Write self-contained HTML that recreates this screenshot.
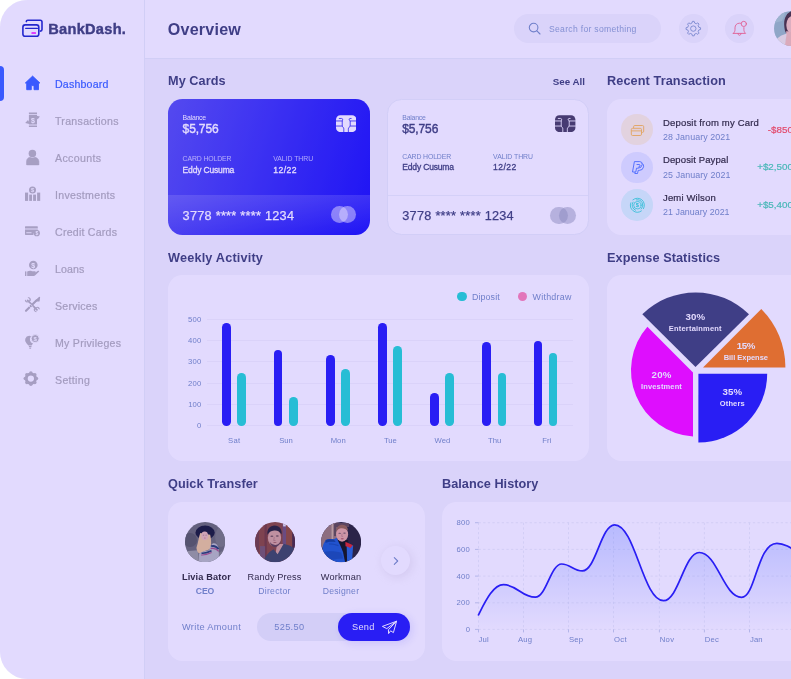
<!DOCTYPE html>
<html lang="en">
<head>
<meta charset="utf-8">
<title>BankDash - Overview</title>
<style>
*{box-sizing:border-box;margin:0;padding:0}
html,body{width:791px;height:679px;background:#fff;overflow:hidden}
body{font-family:"Liberation Sans",sans-serif;color:#343C6A}
#app{position:absolute;left:0;top:0;width:791px;height:679px;overflow:hidden;border-radius:27px 0 0 27px;background:#F5F7FA}
#tint{position:absolute;left:0;top:0;width:791px;height:679px;background:rgba(110,70,250,0.2);pointer-events:none;z-index:50}
.abs{position:absolute}
.t{position:absolute;white-space:nowrap;line-height:1}
#side{position:absolute;left:0;top:0;width:145px;height:679px;background:#fff;border-right:1px solid #EAF0F6}
#head{position:absolute;left:145px;top:0;width:646px;height:58.5px;background:#fff;border-bottom:1px solid #EAF0F6}
.nav{position:absolute;left:55px;font-size:10.6px;font-weight:500;color:#B1B1B1;white-space:nowrap;line-height:12px;-webkit-text-stroke:.2px currentColor}
.nav.on{color:#2D60FF}
.ico{position:absolute}
.h2{position:absolute;font-size:12.7px;font-weight:700;color:#343C6A;white-space:nowrap;line-height:16px}
.panel{position:absolute;background:#fff;border-radius:14.4px}

.tx1{font-size:9.5px;font-weight:500;color:#232323;line-height:12px;-webkit-text-stroke:.2px currentColor}
.tx2{font-size:8.9px;color:#718EBF;line-height:11px}
.tx3{font-size:9.8px;font-weight:500;line-height:12px;-webkit-text-stroke:.2px currentColor}

.lg{font-size:8.9px;color:#718EBF;line-height:11px}
.ax{font-size:7.7px;color:#718EBF;line-height:9px}

.pp{width:60px;text-align:center;font-size:9.7px;font-weight:700;color:#fff;line-height:11px}
.pn{width:60px;text-align:center;font-size:7.5px;font-weight:700;color:#fff;line-height:9px}
</style>
</head>
<body>
<div id="app">
  <!-- SIDEBAR -->
  <div id="side"></div>
  <div id="head"></div>
  

  <svg class="ico" style="left:0;top:0" width="145" height="420" viewBox="0 0 145 420">
    <!-- home -->
    <path d="M32.6 76.1 L39.9 83 H38.5 V89.7 H34 V85.6 H31.3 V89.7 H26.7 V83 H25.3 Z" fill="#2D60FF" stroke="#2D60FF" stroke-width=".9" stroke-linejoin="round"/>
    <g fill="#B6B6B6">
    <!-- transactions -->
    <path d="M28.9 112.6 H37 V114.2 H28.9 Z M28.9 125.4 H37 V127 H28.9 Z"/>
    <path d="M28.9 115 H37 V124.6 H28.9 Z" />
    <path d="M35.5 115.6 L39.9 116.6 L37.6 119.4 Z M30.4 124.2 L25.2 123 L28 120 Z"/>
    <text x="33" y="122.6" font-family="Liberation Sans, sans-serif" font-size="7" font-weight="700" text-anchor="middle" fill="#fff">$</text>
    <!-- accounts -->
    <circle cx="32.4" cy="153.4" r="3.75"/>
    <path d="M26.5 164.7 V161.6 C26.5 158.8 28.6 157.2 30.2 157.2 C31.6 158.2 33.2 158.2 34.6 157.2 C36.4 157.2 38.9 158.8 38.9 161.6 V164.7 Q38.9 164.9 38.3 164.9 H27.1 Q26.5 164.9 26.5 164.7 Z" stroke="#B1B1B1" stroke-width=".5"/>
    <!-- investments -->
    <rect x="25" y="192.6" width="3.1" height="8.3"/><rect x="29.2" y="194.6" width="2.8" height="6.3"/><rect x="33.1" y="194.6" width="2.9" height="6.3"/><rect x="37.1" y="192.6" width="3.1" height="8.3"/>
    <circle cx="32.5" cy="189.9" r="3.5"/>
    <text x="32.5" y="192.2" font-family="Liberation Sans, sans-serif" font-size="5.6" font-weight="700" text-anchor="middle" fill="#fff">$</text>
    <!-- credit cards -->
    <path d="M25 226.8 Q25 226.2 25.6 226.2 H37.2 Q37.8 226.2 37.8 226.8 V228.4 H25 Z"/>
    <path d="M25 229.5 H37.8 V231 A3.6 3.6 0 0 0 33.4 234.9 H25.6 Q25 234.9 25 234.3 Z"/>
    <rect x="26.3" y="232" width="5.2" height="1.3" fill="#fff" opacity=".7"/>
    <circle cx="36.8" cy="233.2" r="3.1"/>
    <text x="36.8" y="235.1" font-family="Liberation Sans, sans-serif" font-size="5" font-weight="700" text-anchor="middle" fill="#fff">$</text>
    <!-- loans -->
    <circle cx="33.3" cy="265" r="4.3"/>
    <text x="33.3" y="267.7" font-family="Liberation Sans, sans-serif" font-size="7" font-weight="700" text-anchor="middle" fill="#fff">$</text>
    <rect x="25" y="271.4" width="1.4" height="4.6"/>
    <path d="M27.2 271.6 C29 270.6 30.5 270.6 32 271.2 L35.2 271.2 Q36 271.6 35.4 272.6 L38 270.8 Q39.2 270.4 39.2 271.6 L35 275.4 Q34 276 32.6 276 H27.2 Z"/>
    <!-- services -->
    <path d="M26 310.8 L36.4 300.4" stroke="#B1B1B1" stroke-width="2.1" stroke-linecap="round"/>
    <path d="M36 300.8 L39.4 297.6 L38.9 300.9 Z" stroke="#B1B1B1" stroke-width="1.4" stroke-linejoin="round"/>
    <path d="M27.6 300.4 L37 309.8" stroke="#B1B1B1" stroke-width="1.7" stroke-linecap="round"/>
    <path d="M25.2 299.5 L27 301.6 L29 301 L29.6 299 L27.6 297.4 C29.6 296.8 31.4 298.4 30.8 300.6 L29.4 302 L26.8 302.6 C25.2 302 24.4 300.8 25.2 299.5 Z"/>
    <path d="M39.4 309.8 L37.6 307.8 L35.6 308.4 L35 310.4 L37 312 C35 312.6 33.2 311 33.8 308.8 L35.2 307.4 L37.8 306.8 C39.4 307.4 40.2 308.6 39.4 309.8 Z"/>
    <path d="M28.3 305.3 L31 308 M29.9 303.7 L32.6 306.4" stroke="#fff" stroke-width=".7"/>
    <!-- privileges -->
    <path d="M29.2 335.8 A4.3 4.3 0 0 0 26.6 343.4 L28.4 345.4 H31.6 L33 343.6 A4.6 4.6 0 0 1 31 336.2 Z"/>
    <rect x="28.9" y="346" width="2.6" height="1.1"/><rect x="29.3" y="347.6" width="1.8" height="1.1"/>
    <circle cx="35.2" cy="338.6" r="4" stroke="#fff" stroke-width=".9"/>
    <text x="35.2" y="340.9" font-family="Liberation Sans, sans-serif" font-size="6" font-weight="700" text-anchor="middle" fill="#fff">$</text>
    <!-- setting -->
    <circle cx="30.85" cy="378.6" r="4.6" fill="none" stroke="#B1B1B1" stroke-width="2.9"/>
    <circle cx="30.85" cy="373.00" r="1.75"/><circle cx="34.81" cy="374.64" r="1.75"/><circle cx="36.45" cy="378.60" r="1.75"/><circle cx="34.81" cy="382.56" r="1.75"/><circle cx="30.85" cy="384.20" r="1.75"/><circle cx="26.89" cy="382.56" r="1.75"/><circle cx="25.25" cy="378.60" r="1.75"/><circle cx="26.89" cy="374.64" r="1.75"/>
    </g>
  </svg>
  <!-- logo -->
  <svg class="ico" style="left:16px;top:12px" width="40" height="32" viewBox="16 12 40 32">
    <path d="M26.3 21.6 Q26.3 20.3 27.8 20.3 H40.3 Q42 20.3 42 22 V29.5 Q42 31.1 40.4 31.1" fill="none" stroke="#1220C4" stroke-width="1.6" stroke-linecap="round"/>
    <rect x="22.9" y="24.9" width="15.9" height="11.4" rx="2.3" fill="none" stroke="#1220C4" stroke-width="1.6"/>
    <path d="M25.6 28.3 H37.6" stroke="#1220C4" stroke-width="1.15" stroke-linecap="round"/>
    <rect x="31.4" y="32.2" width="4.6" height="1.6" rx=".5" fill="#FA00FF"/>
  </svg>
  <div class="t" id="logo" style="left:48.3px;top:20.5px;font-size:14.6px;font-weight:700;color:#343C6A;-webkit-text-stroke:.4px #343C6A;line-height:16px;letter-spacing:0.27px">BankDash.</div>
  <div class="abs" style="left:0;top:66px;width:3.5px;height:35px;background:#2D60FF;border-radius:0 6px 6px 0"></div>
  <div class="nav on" style="top:77.5px;letter-spacing:0.2px">Dashboard</div>
  <div class="nav" style="top:114.5px;letter-spacing:0.29px">Transactions</div>
  <div class="nav" style="top:151.5px;letter-spacing:0.36px">Accounts</div>
  <div class="nav" style="top:188.5px;letter-spacing:0.3px">Investments</div>
  <div class="nav" style="top:225.5px;letter-spacing:0.23px">Credit Cards</div>
  <div class="nav" style="top:262.5px;letter-spacing:0.08px">Loans</div>
  <div class="nav" style="top:299.5px;letter-spacing:0.23px">Services</div>
  <div class="nav" style="top:336.5px;letter-spacing:0.25px">My Privileges</div>
  <div class="nav" style="top:373.5px;letter-spacing:0.32px">Setting</div>

  
  <div class="t" id="ov" style="left:167.8px;top:18.5px;font-size:16.1px;font-weight:700;color:#343C6A;line-height:20px;letter-spacing:0.21px">Overview</div>
  <div class="abs" style="left:514.3px;top:14.4px;width:147.2px;height:28.8px;border-radius:15px;background:#F5F7FA"></div>
  <svg class="ico" style="left:527.6px;top:22px" width="14" height="14" viewBox="0 0 14 14"><circle cx="5.6" cy="5.6" r="4.3" fill="none" stroke="#718EBF" stroke-width="1.1"/><path d="M8.9 8.9 L12 12" stroke="#718EBF" stroke-width="1.1" stroke-linecap="round"/></svg>
  <div class="t" style="left:549px;top:23.7px;font-size:8.6px;color:#8BA3CB;line-height:11px;letter-spacing:0.3px">Search for something</div>
  <div class="abs" style="left:678.9px;top:14.4px;width:28.8px;height:28.8px;border-radius:50%;background:#F5F7FA"></div>
  <div class="abs" style="left:725.4px;top:14.4px;width:28.8px;height:28.8px;border-radius:50%;background:#F5F7FA"></div>

  

  <svg class="ico" style="left:675px;top:8px" width="84" height="42" viewBox="675 8 84 42">
    <path d="M692.44 21.35 L694.16 21.35 L694.63 23.06 L696.28 23.74 L697.82 22.87 L699.03 24.08 L698.16 25.62 L698.84 27.27 L700.55 27.74 L700.55 29.46 L698.84 29.93 L698.16 31.58 L699.03 33.12 L697.82 34.33 L696.28 33.46 L694.63 34.14 L694.16 35.85 L692.44 35.85 L691.97 34.14 L690.32 33.46 L688.78 34.33 L687.57 33.12 L688.44 31.58 L687.76 29.93 L686.05 29.46 L686.05 27.74 L687.76 27.27 L688.44 25.62 L687.57 24.08 L688.78 22.87 L690.32 23.74 L691.97 23.06 Z" fill="none" stroke="#718EBF" stroke-width=".8" stroke-linejoin="round"/>
    <circle cx="693.3" cy="28.6" r="2.7" fill="none" stroke="#718EBF" stroke-width=".8"/>
    <g fill="none" stroke="#FE5C73" stroke-width=".85" stroke-linecap="round" stroke-linejoin="round">
      <path d="M733.3 33.4 H745.6 C744.3 32.2 743.9 31 743.9 29.4 V27.6 M741.4 23.6 C740.8 23.3 740.1 23.2 739.4 23.2 C736.8 23.2 735 25.2 735 27.8 V29.4 C735 31 734.6 32.2 733.3 33.4"/>
      <path d="M738 33.6 C738 36 741 36 741 33.6"/>
      <circle cx="743.8" cy="23.9" r="2.6" fill="#F5F7FA"/>
    </g>
  </svg>

  <svg class="ico" style="left:774.2px;top:11.2px;z-index:60" width="35" height="35" viewBox="0 0 35 35">
    <defs><clipPath id="c0"><circle cx="17.5" cy="17.5" r="17.5"/></clipPath><filter id="bl0" x="-20%" y="-20%" width="140%" height="140%"><feGaussianBlur stdDeviation="0.6"/></filter></defs>
    <g clip-path="url(#c0)"><rect width="35" height="35" fill="#8FA6C7"/><g filter="url(#bl0)">
      <path d="M0 0 H12 L8 10 L0 12 Z" fill="#9DB2CF"/>
      <path d="M20 -1 C13 1 9.8 7 10.2 14 C10.4 18 11 21 12.6 22.6 L20 22 Z" fill="#4A3152"/>
      <ellipse cx="19.5" cy="14" rx="7.2" ry="9.4" fill="#DDAFC1"/>
      <path d="M13 8 C14 6 16 5 20 5 L20 2 L13 3 Z" fill="#4A3152"/>
      <path d="M12.4 20 L20 22 L20 35 L10.6 35 Z" fill="#DBAABB"/>
      <path d="M2 29 C5 25 9.6 23.4 12.6 22.8 L10.8 36 L2 36 Z" fill="#D8CBE3"/>
    </g></g>
  </svg>
  <div class="h2" style="left:168px;top:72.8px;letter-spacing:0.06px">My Cards</div>
  <div class="t" style="left:520px;width:65px;text-align:right;top:75.7px;font-size:9.8px;font-weight:700;color:#343C6A;line-height:12px;letter-spacing:-0.02px">See All</div>
  <!-- card 1 -->
  <div class="abs" id="card1" style="left:167.6px;top:98.9px;width:202.4px;height:135.8px;border-radius:14.4px;background:linear-gradient(107deg,#4C49ED 2.6%,#0A06F4 101%);overflow:hidden;color:#fff">
    <div class="abs" style="left:0;top:96.2px;width:100%;height:39.6px;background:linear-gradient(180deg,rgba(255,255,255,.15),rgba(255,255,255,0))"></div>
    <div class="t" style="left:15px;top:14.9px;font-size:6.9px;line-height:8px;letter-spacing:-0.22px">Balance</div>
    <div class="t" style="left:15px;top:23.8px;font-size:12px;font-weight:400;-webkit-text-stroke:.4px currentColor;line-height:13px;letter-spacing:-0.14px">$5,756</div>
    <div class="t" style="left:15px;top:56.4px;font-size:6.9px;line-height:8px;opacity:.7;letter-spacing:-0.13px">CARD HOLDER</div>
    <div class="t" style="left:15px;top:66px;font-size:8.5px;font-weight:400;-webkit-text-stroke:.3px currentColor;line-height:10px;letter-spacing:-0.17px">Eddy Cusuma</div>
    <div class="t" style="left:105.7px;top:56.4px;font-size:6.9px;line-height:8px;opacity:.7;letter-spacing:-0.05px">VALID THRU</div>
    <div class="t" style="left:105.7px;top:66px;font-size:8.6px;font-weight:400;-webkit-text-stroke:.3px currentColor;line-height:10px;letter-spacing:0.42px">12/22</div>
    <div class="t" style="left:15px;top:110.4px;font-size:12.7px;font-weight:500;-webkit-text-stroke:.25px currentColor;line-height:15px;letter-spacing:0.27px">3778 **** **** 1234</div>
    <div class="abs" style="left:163px;top:107.3px;width:17.2px;height:17.2px;border-radius:50%;background:rgba(255,255,255,.5)"></div>
    <div class="abs" style="left:171.4px;top:107.3px;width:17.2px;height:17.2px;border-radius:50%;background:rgba(255,255,255,.5)"></div>
  </div>
  <svg class="ico" style="left:335.8px;top:115.2px" width="20.4" height="17.3" viewBox="0 0 35 29">
    <rect x="0" y="0" width="35" height="29" rx="7.4" fill="#fff"/>
    <g fill="none" stroke="#2E2AF0" stroke-width="1.5" stroke-linecap="round">
      <path d="M5.6 5.6 H9.6 Q11.6 5.8 11.4 7.8 Q11.2 9 10.7 9.9 V18.4 Q11 19.6 12.2 20.6 Q13.6 22 13.4 24 V29"/>
      <path d="M26 5.6 H24 Q22.2 6 22.6 7.8 Q23 9 24.4 9.9 V18.2 Q24 19.6 22.6 20.6 Q21 22 21.2 24 V29"/>
      <path d="M0 9.9 H10.7 M0 18.6 H10.8 M24.4 9.9 H35 M24.3 18.6 H35"/>
    </g></svg>
  <!-- card 2 -->
  <div class="abs" id="card2" style="left:387.3px;top:99px;width:202px;height:135.6px;border-radius:14.4px;background:#fff;border:1px solid #EBF0F7;overflow:hidden;color:#343C6A">
    <div class="abs" style="left:0;top:95px;width:100%;height:1px;background:#EEF3F8"></div>
    <div class="t" style="left:14px;top:13.9px;font-size:6.9px;line-height:8px;color:#718EBF;letter-spacing:-0.22px">Balance</div>
    <div class="t" style="left:14px;top:22.8px;font-size:12px;font-weight:400;-webkit-text-stroke:.4px currentColor;line-height:13px;letter-spacing:-0.14px">$5,756</div>
    <div class="t" style="left:14px;top:52.9px;font-size:6.9px;line-height:8px;color:#718EBF;letter-spacing:-0.13px">CARD HOLDER</div>
    <div class="t" style="left:14px;top:62.2px;font-size:8.5px;font-weight:400;-webkit-text-stroke:.3px currentColor;line-height:10px;letter-spacing:-0.17px">Eddy Cusuma</div>
    <div class="t" style="left:104.8px;top:52.9px;font-size:6.9px;line-height:8px;color:#718EBF;letter-spacing:-0.05px">VALID THRU</div>
    <div class="t" style="left:104.8px;top:62.2px;font-size:8.6px;font-weight:400;-webkit-text-stroke:.3px currentColor;line-height:10px;letter-spacing:0.42px">12/22</div>
    <div class="t" style="left:14px;top:109.4px;font-size:12.7px;font-weight:500;-webkit-text-stroke:.25px currentColor;line-height:15px;letter-spacing:0.27px">3778 **** **** 1234</div>
    <div class="abs" style="left:162px;top:106.5px;width:17.3px;height:17.3px;border-radius:50%;background:rgba(145,153,175,.5)"></div>
    <div class="abs" style="left:170.7px;top:106.5px;width:17.3px;height:17.3px;border-radius:50%;background:rgba(145,153,175,.5)"></div>
  </div>
  <svg class="ico" style="left:555.4px;top:115.2px" width="20.4" height="17.3" viewBox="0 0 35 29">
    <rect x="0" y="0" width="35" height="29" rx="7.4" fill="#3E3951"/>
    <g fill="none" stroke="#fff" stroke-width="1.5" stroke-linecap="round">
      <path d="M5.6 5.6 H9.6 Q11.6 5.8 11.4 7.8 Q11.2 9 10.7 9.9 V18.4 Q11 19.6 12.2 20.6 Q13.6 22 13.4 24 V29"/>
      <path d="M26 5.6 H24 Q22.2 6 22.6 7.8 Q23 9 24.4 9.9 V18.2 Q24 19.6 22.6 20.6 Q21 22 21.2 24 V29"/>
      <path d="M0 9.9 H10.7 M0 18.6 H10.8 M24.4 9.9 H35 M24.3 18.6 H35"/>
    </g></svg>

  
  <div class="h2" style="left:607px;top:72.8px;letter-spacing:0.1px">Recent Transaction</div>
  <div class="panel" style="left:607px;top:99.2px;width:202px;height:135.6px"></div>
  <div class="abs" style="left:621px;top:113.8px;width:31.7px;height:31.7px;border-radius:50%;background:#FFF5D9"></div>
  <div class="abs" style="left:621px;top:151.6px;width:31.7px;height:31.7px;border-radius:50%;background:#E7EDFF"></div>
  <div class="abs" style="left:621px;top:189.2px;width:31.7px;height:31.7px;border-radius:50%;background:#DCFAF8"></div>

  <svg class="ico" style="left:617px;top:110px" width="40" height="115" viewBox="617 110 40 115">
    <g fill="none" stroke="#FFBB38" stroke-width=".9" stroke-linejoin="round">
      <path d="M633.6 128 V126.7 Q633.6 125.5 634.8 125.5 H642.5 Q643.7 125.5 643.7 126.7 V131.2 Q643.7 132.4 642.5 132.4 H641.8"/>
      <rect x="631.3" y="128.3" width="10.2" height="7.2" rx="1.3"/>
      <rect x="631.5" y="129.9" width="9.8" height="1.7" fill="#FFBB38" fill-opacity=".55" stroke="none"/>
    </g>
    <g fill="none" stroke="#396AFF" stroke-width=".85" stroke-linejoin="round">
      <path d="M634.4 161.6 H639.8 Q642.6 161.7 642.2 164.6 Q641.6 168.2 638 168.2 H636.5 L635.8 172 H632.5 Z"/>
      <path d="M642.1 163.4 Q643.9 164.4 643.6 166.8 Q642.9 170.4 639.3 170.4 H638.2 L637.5 173.5 H634.8 L635 172.2"/>
      <path d="M636.6 164.5 H639.2 Q640.4 164.6 640 166 Q639.6 167.2 638.2 167.2"/>
    </g>
    <g fill="none" stroke="#16DBCC" stroke-width=".8" stroke-linecap="round">
      <path d="M632.90 199.84 A7 7 0 0 1 643.46 208.70"/>
      <path d="M641.42 210.93 A7 7 0 0 1 630.82 202.81"/>
      <path d="M636.46 199.88 A5.4 5.4 0 0 1 641.22 209.02"/>
      <path d="M635.55 210.27 A5.4 5.4 0 0 1 632.98 202.10"/>
      <circle cx="637.4" cy="205.2" r="3.7" stroke-width=".75"/>
    </g>
    <text x="637.4" y="207.2" font-family="Liberation Sans, sans-serif" font-size="5.6" font-weight="700" text-anchor="middle" fill="#16DBCC">$</text>
  </svg>
  <div class="t tx1" style="left:663px;top:116.7px;letter-spacing:0.18px">Deposit from my Card</div>
  <div class="t tx2" style="left:663px;top:132.1px;letter-spacing:0.08px">28 January 2021</div>
  <div class="t tx1" style="left:663px;top:154.2px;letter-spacing:0.11px">Deposit Paypal</div>
  <div class="t tx2" style="left:663px;top:169.6px;letter-spacing:0.1px">25 January 2021</div>
  <div class="t tx1" style="left:663px;top:191.7px;letter-spacing:0.15px">Jemi Wilson</div>
  <div class="t tx2" style="left:663px;top:207.1px;letter-spacing:0.03px">21 January 2021</div>
  <div class="t tx3" style="left:767.8px;top:123.5px;color:#FF4B4A">-$850</div>
  <div class="t tx3" style="left:757.2px;top:161px;color:#41D4A8">+$2,500</div>
  <div class="t tx3" style="left:757.2px;top:198.5px;color:#41D4A8">+$5,400</div>

  
  <div class="h2" style="left:168px;top:249.8px;letter-spacing:0.18px">Weekly Activity</div>
  <div class="panel" style="left:167.8px;top:274.6px;width:421.6px;height:186.2px"></div>
  <div class="abs" style="left:457.4px;top:291.8px;width:9.2px;height:9.2px;border-radius:50%;background:#16DBCC"></div>
  <div class="t lg" style="left:472px;top:291.5px;letter-spacing:0.09px">Diposit</div>
  <div class="abs" style="left:518px;top:291.8px;width:9.2px;height:9.2px;border-radius:50%;background:#FF82AC"></div>
  <div class="t lg" style="left:532.6px;top:291.5px;letter-spacing:0.25px">Withdraw</div>
  <div class="t ax" style="left:171.4px;width:30px;text-align:right;top:314.5px;letter-spacing:0.22px">500</div>
  <div class="abs" style="left:207px;top:318.5px;width:366px;height:1px;background:#F6F6F9"></div>
  <div class="t ax" style="left:171.4px;width:30px;text-align:right;top:336.2px;letter-spacing:0.22px">400</div>
  <div class="abs" style="left:207px;top:340.2px;width:366px;height:1px;background:#F6F6F9"></div>
  <div class="t ax" style="left:171.4px;width:30px;text-align:right;top:357.3px;letter-spacing:0.22px">300</div>
  <div class="abs" style="left:207px;top:361.3px;width:366px;height:1px;background:#F6F6F9"></div>
  <div class="t ax" style="left:171.4px;width:30px;text-align:right;top:378.5px;letter-spacing:0.22px">200</div>
  <div class="abs" style="left:207px;top:382.5px;width:366px;height:1px;background:#F6F6F9"></div>
  <div class="t ax" style="left:171.4px;width:30px;text-align:right;top:400.1px;letter-spacing:0.12px">100</div>
  <div class="abs" style="left:207px;top:404.1px;width:366px;height:1px;background:#F6F6F9"></div>
  <div class="t ax" style="left:171.4px;width:30px;text-align:right;top:421.3px">0</div>
  <div class="abs" style="left:207px;top:425.3px;width:366px;height:1px;background:#F6F6F9"></div>
  <div class="abs" style="left:221.9px;top:322.7px;width:8.8px;height:103.3px;border-radius:4.4px;background:#1814F3"></div>
  <div class="abs" style="left:237.1px;top:372.8px;width:8.8px;height:53.2px;border-radius:4.4px;background:#16DBCC"></div>
  <div class="t ax" style="left:214.2px;width:40px;text-align:center;top:435.7px;letter-spacing:0.22px">Sat</div>
  <div class="abs" style="left:273.7px;top:350.4px;width:8.8px;height:75.6px;border-radius:4.4px;background:#1814F3"></div>
  <div class="abs" style="left:288.9px;top:397.2px;width:8.8px;height:28.8px;border-radius:4.4px;background:#16DBCC"></div>
  <div class="t ax" style="left:266.0px;width:40px;text-align:center;top:435.7px">Sun</div>
  <div class="abs" style="left:325.9px;top:355.0px;width:8.8px;height:71.0px;border-radius:4.4px;background:#1814F3"></div>
  <div class="abs" style="left:341.1px;top:368.8px;width:8.8px;height:57.2px;border-radius:4.4px;background:#16DBCC"></div>
  <div class="t ax" style="left:318.2px;width:40px;text-align:center;top:435.7px">Mon</div>
  <div class="abs" style="left:378.1px;top:322.7px;width:8.8px;height:103.3px;border-radius:4.4px;background:#1814F3"></div>
  <div class="abs" style="left:393.3px;top:345.6px;width:8.8px;height:80.4px;border-radius:4.4px;background:#16DBCC"></div>
  <div class="t ax" style="left:370.4px;width:40px;text-align:center;top:435.7px">Tue</div>
  <div class="abs" style="left:430.1px;top:393.0px;width:8.8px;height:33.0px;border-radius:4.4px;background:#1814F3"></div>
  <div class="abs" style="left:445.3px;top:372.8px;width:8.8px;height:53.2px;border-radius:4.4px;background:#16DBCC"></div>
  <div class="t ax" style="left:422.4px;width:40px;text-align:center;top:435.7px">Wed</div>
  <div class="abs" style="left:482.3px;top:341.8px;width:8.8px;height:84.2px;border-radius:4.4px;background:#1814F3"></div>
  <div class="abs" style="left:497.5px;top:372.8px;width:8.8px;height:53.2px;border-radius:4.4px;background:#16DBCC"></div>
  <div class="t ax" style="left:474.6px;width:40px;text-align:center;top:435.7px">Thu</div>
  <div class="abs" style="left:533.5px;top:340.7px;width:8.8px;height:85.3px;border-radius:4.4px;background:#1814F3"></div>
  <div class="abs" style="left:548.7px;top:352.8px;width:8.8px;height:73.2px;border-radius:4.4px;background:#16DBCC"></div>
  <div class="t ax" style="left:526.8px;width:40px;text-align:center;top:435.7px">Fri</div>
  <div class="h2" style="left:607px;top:249.8px;letter-spacing:0.06px">Expense Statistics</div>
  <div class="panel" style="left:607px;top:274.8px;width:202px;height:186px"></div>
  <svg class="ico" style="left:607px;top:275px" width="184" height="186" viewBox="0 0 184 186">
    <path d="M88.5 91.9 L35.3 39.2 A76.4 76.4 0 0 1 142.0 39.2 Z" fill="#343C6A"/>
    <path d="M96.0 92.4 L154.3 34.1 A82.4 82.4 0 0 1 178.4 92.4 Z" fill="#FC7900"/>
    <path d="M91.4 98.8 L160.2 98.8 A68.8 68.8 0 0 1 91.4 167.6 Z" fill="#1814F3"/>
    <path d="M86.0 97.4 L86.0 161.6 A66.3 66.3 0 0 1 40.4 51.8 Z" fill="#FA00FF"/>
  </svg>
  <div class="t pp" style="left:665.3px;top:311.1px;letter-spacing:0.13px">30%</div>
  <div class="t pn" style="left:665.3px;top:323.9px;letter-spacing:0.19px">Entertainment</div>
  <div class="t pp" style="left:715.8px;top:340.2px;letter-spacing:-0.37px">15%</div>
  <div class="t pn" style="left:715.8px;top:353.0px;letter-spacing:-0.03px">Bill Expense</div>
  <div class="t pp" style="left:631.5px;top:369.0px;letter-spacing:0.13px">20%</div>
  <div class="t pn" style="left:631.5px;top:381.8px;letter-spacing:0.14px">Investment</div>
  <div class="t pp" style="left:702.3px;top:385.9px;letter-spacing:0.13px">35%</div>
  <div class="t pn" style="left:702.3px;top:399.1px;letter-spacing:0.14px">Others</div>

  
  <div class="h2" style="left:168px;top:475.8px;letter-spacing:0.07px">Quick Transfer</div>
  <div class="panel" style="left:167.8px;top:501.8px;width:257px;height:159.6px"></div>
  
  <svg class="ico" style="left:185.1px;top:522.3px;z-index:60" width="40.2" height="40.2" viewBox="0 0 40 40">
    <defs><clipPath id="c1"><circle cx="20" cy="20" r="20"/></clipPath><filter id="bl" x="-20%" y="-20%" width="140%" height="140%"><feGaussianBlur stdDeviation="0.75"/></filter></defs>
    <g clip-path="url(#c1)"><rect width="40" height="40" fill="#64617E"/><g filter="url(#bl)">
      <ellipse cx="5" cy="18" rx="7" ry="7" fill="#55526F"/>
      <ellipse cx="36" cy="15" rx="6" ry="10" fill="#706D88"/>
      <path d="M0 29 L13 28 L14 40 L0 40 Z" fill="#8F8CA5"/>
      <path d="M33 31 L40 27 L40 40 L31 40 Z" fill="#77748E"/>
      <ellipse cx="20" cy="10.6" rx="9.6" ry="7" fill="#1E1B49"/>
      <path d="M15.2 11 C13.6 15 13.4 20 11.4 25.6 C11.8 30 14.5 32.4 16.4 31 C18 28.6 21 28.4 24.4 27 C26.6 24 26.4 18 25 12.6 Z" fill="#D3AE9F"/>
      <ellipse cx="19.6" cy="13.8" rx="3.4" ry="4.3" fill="#D0A4B7"/>
      <ellipse cx="18.4" cy="13" rx=".8" ry=".4" fill="#5A4060" opacity=".7"/><ellipse cx="21" cy="13" rx=".8" ry=".4" fill="#5A4060" opacity=".7"/><ellipse cx="19.8" cy="16" rx=".9" ry=".45" fill="#A85070" opacity=".8"/>
      <path d="M16 10 C18 8.4 22 8.4 24 10.4 L24 8 L16 8 Z" fill="#1E1B49"/>
      <path d="M14 40 L14 32 C15 30 17 29.5 19 29 L24 28 C25 25 26 22.5 27.5 21.5 C30 20.5 32.5 22.5 33.6 26 L33.8 40 Z" fill="#A7A4C3"/>
      <path d="M26 24.2 C28.5 23.4 31.5 24.5 33.4 27" stroke="#2C3A7C" stroke-width="2" fill="none"/>
      <path d="M25.5 26.6 C28.5 25.6 31.5 26.8 33.6 29.2" stroke="#9A4B90" stroke-width="1.3" fill="none"/>
      <path d="M16.5 31 C20 31.5 23 30.2 26.4 28.6" stroke="#2C3A7C" stroke-width="1.6" fill="none"/>
      <path d="M16 32.8 C20 33.2 23 32 26.5 30.4" stroke="#9A4B90" stroke-width="1" fill="none"/>
    </g></g>
  </svg>
  <svg class="ico" style="left:254.5px;top:522.4px;z-index:60" width="40.2" height="40.2" viewBox="0 0 40 40">
    <defs><clipPath id="c2"><circle cx="20" cy="20" r="20"/></clipPath></defs>
    <g clip-path="url(#c2)"><rect width="40" height="40" fill="#7E4350"/><g filter="url(#bl)">
      <rect x="0" y="0" width="4" height="40" fill="#6A3A52"/>
      <rect x="9.5" y="0" width="2.2" height="40" fill="#6B3850"/>
      <rect x="5" y="24" width="5" height="14" fill="#6E5078"/>
      <rect x="27.5" y="0" width="3.4" height="24" fill="#6B4C82"/>
      <rect x="28" y="1" width="2.6" height="3.4" fill="#CFC8EC"/>
      <rect x="31" y="0" width="6" height="26" fill="#86474C"/>
      <rect x="37" y="8" width="3" height="20" fill="#4A2C52"/>
      <path d="M22 22 L29 22 L30 32 L20 34 Z" fill="#C08E9E"/>
      <ellipse cx="19.4" cy="15.6" rx="6.6" ry="8.6" fill="#BF90A1"/>
      <ellipse cx="16.8" cy="14.2" rx="1.5" ry=".7" fill="#4A3050" opacity=".75"/><ellipse cx="22.2" cy="13.9" rx="1.5" ry=".7" fill="#4A3050" opacity=".75"/><ellipse cx="19.8" cy="20.4" rx="1.7" ry=".6" fill="#8A4A62" opacity=".8"/><path d="M19.2 15 L18.6 18.4 L20.4 18.4" stroke="#9A6A80" stroke-width=".7" fill="none"/>
      <path d="M12.4 13 C11.5 7 15 3.6 19.5 3.6 C24.5 3.6 27 7.5 26.6 12.5 C25 9.5 22 8 19 8.4 C16 8.6 13.5 10 12.4 13 Z" fill="#2A2449"/>
      <path d="M14.5 19.5 C15.5 23.5 18 25.5 21 25 C23.5 24.2 25.6 21.5 26.2 18 C25 21 23 22.6 20.5 22.8 C18 23 16 21.8 14.5 19.5 Z" fill="#5A3E5E"/>
      <path d="M9 38 C11 32 16 28.5 18.5 27 L22.5 32 L28.5 21.6 C33 22.5 37.5 24.5 40 27 L40 40 L9 40 Z" fill="#3D426F"/>
    </g></g>
  </svg>
  <svg class="ico" style="left:321.3px;top:522.4px;z-index:60" width="40.2" height="40.2" viewBox="0 0 40 40">
    <defs><clipPath id="c3"><circle cx="20" cy="20" r="20"/></clipPath></defs>
    <g clip-path="url(#c3)"><rect width="40" height="40" fill="#2B2349"/><g filter="url(#bl)">
      <path d="M0 0 L17 0 L16 22 L0 26 Z" fill="#8D6E80"/>
      <rect x="10.5" y="2" width="1.6" height="16" fill="#B79AA0"/>
      <rect x="13" y="2" width="2.4" height="12" fill="#5A4660"/>
      <path d="M14 1 L28 1 L28 5 L14 5 Z" fill="#5B4560"/>
      <path d="M16 18 L27 18 L27.5 40 L17 40 Z" fill="#15132F"/>
      <ellipse cx="21" cy="12.4" rx="6" ry="7.2" fill="#CE95A6"/>
      <ellipse cx="18.6" cy="11.2" rx="1.3" ry=".6" fill="#4A3558" opacity=".75"/><ellipse cx="23.4" cy="11" rx="1.3" ry=".6" fill="#4A3558" opacity=".75"/><ellipse cx="21.2" cy="16.6" rx="1.5" ry=".7" fill="#9A4A66" opacity=".8"/><path d="M21 11.6 L20.6 14.4 L22 14.4" stroke="#A8708A" stroke-width=".7" fill="none"/>
      <path d="M15.2 9.5 C15 5 18 2.6 21.5 2.8 C25 3 27 5.5 26.8 9 C25 6.6 22.5 6 20 6.2 C18 6.4 16.2 7.5 15.2 9.5 Z" fill="#8A5B5E"/>
      <path d="M1.5 26 C2 22 4 18.5 6 17.5 C9 16.5 12 17.5 13.5 17 L15.5 15.6 C17 19 20 24 22 30 L24 40 L8 40 C4 36 2 31 1.5 26 Z" fill="#2152CE"/>
      <path d="M3 30 C8 28.6 14 29 20 30.6 L22 36 L6 38 Z" fill="#1B45B4" opacity=".8"/>
      <path d="M8 22 C11 21.4 14 22 17.4 23.6" stroke="#1B45B4" stroke-width="1" fill="none"/>
      <path d="M4.5 18 C7 16.6 11 17.4 13 17.6 L14.5 20 C11 19.4 7 19.4 4.5 21 Z" fill="#173B9E"/>
      <path d="M25.5 22.5 L32 23.5 L31 37 L26 40 Z" fill="#2A5CD4"/>
      <path d="M24.2 20 C26.5 20.6 29.5 22 31.6 23.2 L29.4 26 C27.5 25 25.6 24.4 24.4 24.2 Z" fill="#C5283F"/>
    </g></g>
  </svg>

  <div class="t" style="left:166.4px;width:80px;text-align:center;top:571px;font-size:9.2px;font-weight:700;color:#232323;line-height:12px;letter-spacing:0.13px">Livia Bator</div>
  <div class="t" style="left:165px;width:80px;text-align:center;top:585.6px;font-size:8.64px;font-weight:700;color:#718EBF;line-height:11px;letter-spacing:-0.1px">CEO</div>
  <div class="t" style="left:234.5px;width:80px;text-align:center;top:571px;font-size:9.2px;color:#232323;line-height:12px;letter-spacing:0.11px">Randy Press</div>
  <div class="t" style="left:234.5px;width:80px;text-align:center;top:585.6px;font-size:8.64px;color:#718EBF;line-height:11px;letter-spacing:0.3px">Director</div>
  <div class="t" style="left:301px;width:80px;text-align:center;top:571px;font-size:9.2px;color:#232323;line-height:12px;letter-spacing:0.22px">Workman</div>
  <div class="t" style="left:301px;width:80px;text-align:center;top:585.6px;font-size:8.64px;color:#718EBF;line-height:11px;letter-spacing:0.25px">Designer</div>
  <div class="abs" style="left:381px;top:546.2px;width:28.8px;height:28.8px;border-radius:50%;background:#fff;box-shadow:2px 2px 10px rgba(231,228,232,.8)"></div>
  <svg class="ico" style="left:391.5px;top:556px" width="8" height="10" viewBox="0 0 8 10"><path d="M2.3 1.6 L5.7 5 L2.3 8.4" fill="none" stroke="#718EBF" stroke-width="1.1" stroke-linecap="round" stroke-linejoin="round"/></svg>
  <div class="t" style="left:182px;top:621px;font-size:9.2px;color:#718EBF;line-height:12px;letter-spacing:0.34px">Write Amount</div>
  <div class="abs" style="left:257.3px;top:612.6px;width:153px;height:28.8px;border-radius:14.4px;background:#EDF1F7"></div>
  <div class="t" style="left:274.3px;top:621px;font-size:9.2px;color:#718EBF;line-height:12px;letter-spacing:0.33px">525.50</div>
  <div class="abs" style="left:337.7px;top:612.6px;width:72.6px;height:28.8px;border-radius:14.4px;background:#1814F3;box-shadow:2px 2px 8px rgba(24,20,243,.13)"></div>
  <div class="t" style="left:352px;top:621px;font-size:9.2px;font-weight:500;color:#fff;line-height:12px;letter-spacing:0.29px">Send</div>
  <svg class="ico" style="left:380.5px;top:619.5px" width="17" height="15" viewBox="0 0 17 15"><path d="M15.6 1.2 L1.4 6.4 L5.8 8.6 L15.6 1.2 L7.4 9.8 L7.6 13.6 L9.6 10.8 L12.4 12.6 Z" fill="none" stroke="#fff" stroke-width="1" stroke-linejoin="round"/></svg>

  
  <div class="h2" style="left:442px;top:475.8px;letter-spacing:0.03px">Balance History</div>
  <div class="panel" style="left:441.5px;top:502px;width:366px;height:159.4px"></div>
  <svg class="ico" style="left:441px;top:500px" width="350" height="162" viewBox="0 0 350 162">
    <defs><linearGradient id="bg" x1="0" y1="0" x2="0" y2="1"><stop offset="0" stop-color="#2D60FF" stop-opacity=".25"/><stop offset="1" stop-color="#2D60FF" stop-opacity="0"/></linearGradient></defs>
    <g stroke="#DFE5EE" stroke-width=".6" stroke-dasharray="2.3 2.35" fill="none">
      <path d="M37.5 22.7 H350 M37.5 49.4 H350 M37.5 76.1 H350 M37.5 102.8 H350 M37.5 129.4 H350"/>
      <path d="M37.5 22.7 V129.4 M82.5 22.7 V129.4 M127.5 22.7 V129.4 M172.5 22.7 V129.4 M218.4 22.7 V129.4 M263.4 22.7 V129.4 M308.5 22.7 V129.4"/>
    </g>
    <g stroke="#9DB1D4" stroke-width=".6" fill="none">
      <path d="M34 22.7 H37.5 M34 49.4 H37.5 M34 76.1 H37.5 M34 102.8 H37.5 M34 129.4 H37.5"/>
      <path d="M37.5 129.4 V132.4 M82.5 129.4 V132.4 M127.5 129.4 V132.4 M172.5 129.4 V132.4 M218.4 129.4 V132.4 M263.4 129.4 V132.4 M308.5 129.4 V132.4"/>
    </g>
    <path d="M37.5 114.8 C44.0 102.0 52.0 84.7 62.5 84.7 C75.9 84.7 80.9 97.2 94.3 97.2 C105.3 97.2 109.6 64.0 120.6 64.0 C129.3 64.0 132.6 70.9 141.3 70.9 C154.9 70.9 160.0 24.8 173.6 24.8 C194.1 24.8 202.0 100.7 222.5 100.7 C237.5 100.7 243.3 52.5 258.3 52.5 C276.1 52.5 282.8 97.4 300.6 97.4 C314.7 97.4 316.1 43.4 335.9 43.4 C343.0 43.4 349.0 47.2 359.0 53.5 L359.0 129.4 L37.5 129.4 Z" fill="url(#bg)"/>
    <path d="M37.5 114.8 C44.0 102.0 52.0 84.7 62.5 84.7 C75.9 84.7 80.9 97.2 94.3 97.2 C105.3 97.2 109.6 64.0 120.6 64.0 C129.3 64.0 132.6 70.9 141.3 70.9 C154.9 70.9 160.0 24.8 173.6 24.8 C194.1 24.8 202.0 100.7 222.5 100.7 C237.5 100.7 243.3 52.5 258.3 52.5 C276.1 52.5 282.8 97.4 300.6 97.4 C314.7 97.4 316.1 43.4 335.9 43.4 C343.0 43.4 349.0 47.2 359.0 53.5" fill="none" stroke="#1814F3" stroke-width="1.7" stroke-linecap="round" stroke-linejoin="round"/>
  </svg>
  <div class="t ax" style="left:440px;width:30px;text-align:right;top:518.2px;letter-spacing:0.22px">800</div>
  <div class="t ax" style="left:440px;width:30px;text-align:right;top:544.9px;letter-spacing:0.22px">600</div>
  <div class="t ax" style="left:440px;width:30px;text-align:right;top:571.6px;letter-spacing:0.22px">400</div>
  <div class="t ax" style="left:440px;width:30px;text-align:right;top:598.3px;letter-spacing:0.22px">200</div>
  <div class="t ax" style="left:440px;width:30px;text-align:right;top:624.9px">0</div>
  <div class="t ax" style="left:478.5px;top:635.4px;letter-spacing:0.16px">Jul</div>
  <div class="t ax" style="left:517.9px;top:635.4px;letter-spacing:0.21px">Aug</div>
  <div class="t ax" style="left:569px;top:635.4px;letter-spacing:0.14px">Sep</div>
  <div class="t ax" style="left:613.9px;top:635.4px;letter-spacing:0.38px">Oct</div>
  <div class="t ax" style="left:659.7px;top:635.4px;letter-spacing:0.31px">Nov</div>
  <div class="t ax" style="left:704.8px;top:635.4px;letter-spacing:0.14px">Dec</div>
  <div class="t ax" style="left:749.9px;top:635.4px;letter-spacing:0.17px">Jan</div>

  <div id="tint"></div>
</div>
</body>
</html>
